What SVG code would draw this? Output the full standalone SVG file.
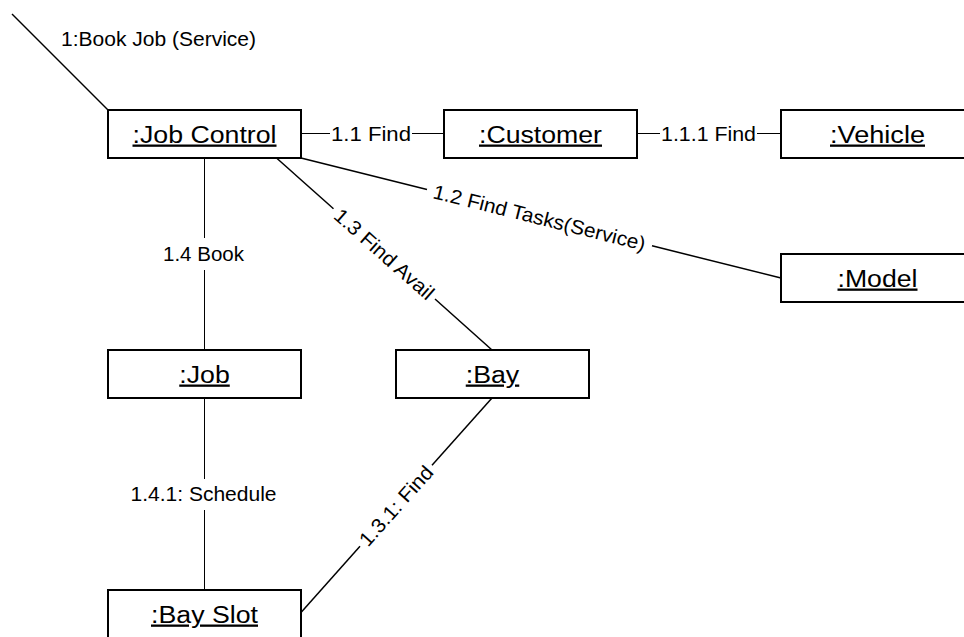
<svg xmlns="http://www.w3.org/2000/svg" width="964" height="637" viewBox="0 0 964 637">
  <style>
    .box { fill: #ffffff; stroke: #000000; stroke-width: 2; }
    .name { font-family: "Liberation Sans", Arial, sans-serif; font-size: 23px; fill: #000000; text-anchor: middle; text-decoration: underline; }
    .wire { stroke: #000000; stroke-width: 1.5; fill: none; stroke-linecap: butt; }
    .thin { stroke: #000000; stroke-width: 1; fill: none; }
    .lbl { font-family: "Liberation Sans", Arial, sans-serif; font-size: 20px; fill: #000000; text-anchor: middle; }
  </style>
  <rect x="0" y="0" width="964" height="637" fill="#ffffff"/>

  <!-- connectors and their message labels -->
  <g id="connectors">
    <!-- incoming message -->
    <line class="wire" x1="12" y1="14" x2="108" y2="110"/>
    <text class="lbl" x="158.5" y="45.5" textLength="195" lengthAdjust="spacingAndGlyphs">1:Book Job (Service)</text>

    <!-- Job Control - Customer -->
    <line class="thin" x1="301" y1="133.5" x2="330" y2="133.5"/>
    <line class="thin" x1="412" y1="133.5" x2="444" y2="133.5"/>
    <text class="lbl" x="371" y="140.5" textLength="80" lengthAdjust="spacingAndGlyphs">1.1 Find</text>

    <!-- Customer - Vehicle -->
    <line class="thin" x1="637" y1="133.5" x2="660" y2="133.5"/>
    <line class="thin" x1="757" y1="133.5" x2="781" y2="133.5"/>
    <text class="lbl" x="708.5" y="140.5" textLength="95" lengthAdjust="spacingAndGlyphs">1.1.1 Find</text>

    <!-- Job Control - Model -->
    <line class="wire" x1="301" y1="158" x2="427" y2="189.5"/>
    <line class="wire" x1="652" y1="245.8" x2="781" y2="278"/>
    <g transform="translate(539.5,217.6) rotate(14.04)">
      <text class="lbl" x="0" y="7" textLength="218" lengthAdjust="spacingAndGlyphs">1.2 Find Tasks(Service)</text>
    </g>

    <!-- Job Control - Bay -->
    <line class="wire" x1="276.5" y1="158" x2="333.5" y2="208.7"/>
    <line class="wire" x1="435" y1="299" x2="492" y2="350"/>
    <g transform="translate(384.2,254) rotate(41.63)">
      <text class="lbl" x="0" y="7" textLength="126" lengthAdjust="spacingAndGlyphs">1.3 Find Avail</text>
    </g>

    <!-- Job Control - Job -->
    <line class="thin" x1="204.5" y1="158" x2="204.5" y2="238"/>
    <line class="thin" x1="204.5" y1="270" x2="204.5" y2="350"/>
    <text class="lbl" x="203.5" y="261" textLength="81" lengthAdjust="spacingAndGlyphs">1.4 Book</text>

    <!-- Job - Bay Slot -->
    <line class="thin" x1="204.5" y1="398" x2="204.5" y2="479"/>
    <line class="thin" x1="204.5" y1="510" x2="204.5" y2="590"/>
    <text class="lbl" x="203.5" y="500.5" textLength="146" lengthAdjust="spacingAndGlyphs">1.4.1: Schedule</text>

    <!-- Bay - Bay Slot -->
    <line class="wire" x1="492" y1="398" x2="432" y2="465.3"/>
    <line class="wire" x1="360" y1="546.2" x2="301" y2="612.5"/>
    <g transform="translate(396,505.8) rotate(-48.3)">
      <text class="lbl" x="0" y="7" textLength="100" lengthAdjust="spacingAndGlyphs">1.3.1: Find</text>
    </g>
  </g>

  <!-- object nodes -->
  <g id="job-control">
    <rect class="box" x="108" y="110" width="193" height="48"/>
    <text class="name" x="204.5" y="142.5" textLength="144" lengthAdjust="spacingAndGlyphs">:Job Control</text>
  </g>
  <g id="customer">
    <rect class="box" x="444" y="110" width="193" height="48"/>
    <text class="name" x="540.5" y="142.5" textLength="123" lengthAdjust="spacingAndGlyphs">:Customer</text>
  </g>
  <g id="vehicle">
    <rect class="box" x="781" y="110" width="193" height="48"/>
    <text class="name" x="877.5" y="142.5" textLength="95" lengthAdjust="spacingAndGlyphs">:Vehicle</text>
  </g>
  <g id="model">
    <rect class="box" x="781" y="254" width="193" height="48"/>
    <text class="name" x="877.5" y="286.5" textLength="80" lengthAdjust="spacingAndGlyphs">:Model</text>
  </g>
  <g id="job">
    <rect class="box" x="108" y="350" width="193" height="48"/>
    <text class="name" x="204.5" y="382.5" textLength="50.5" lengthAdjust="spacingAndGlyphs">:Job</text>
  </g>
  <g id="bay">
    <rect class="box" x="396" y="350" width="193" height="48"/>
    <text class="name" x="492.5" y="382.5" textLength="53.5" lengthAdjust="spacingAndGlyphs">:Bay</text>
  </g>
  <g id="bay-slot">
    <rect class="box" x="108" y="590" width="193" height="48"/>
    <text class="name" x="204.5" y="622.5" textLength="107" lengthAdjust="spacingAndGlyphs">:Bay Slot</text>
  </g>
</svg>
